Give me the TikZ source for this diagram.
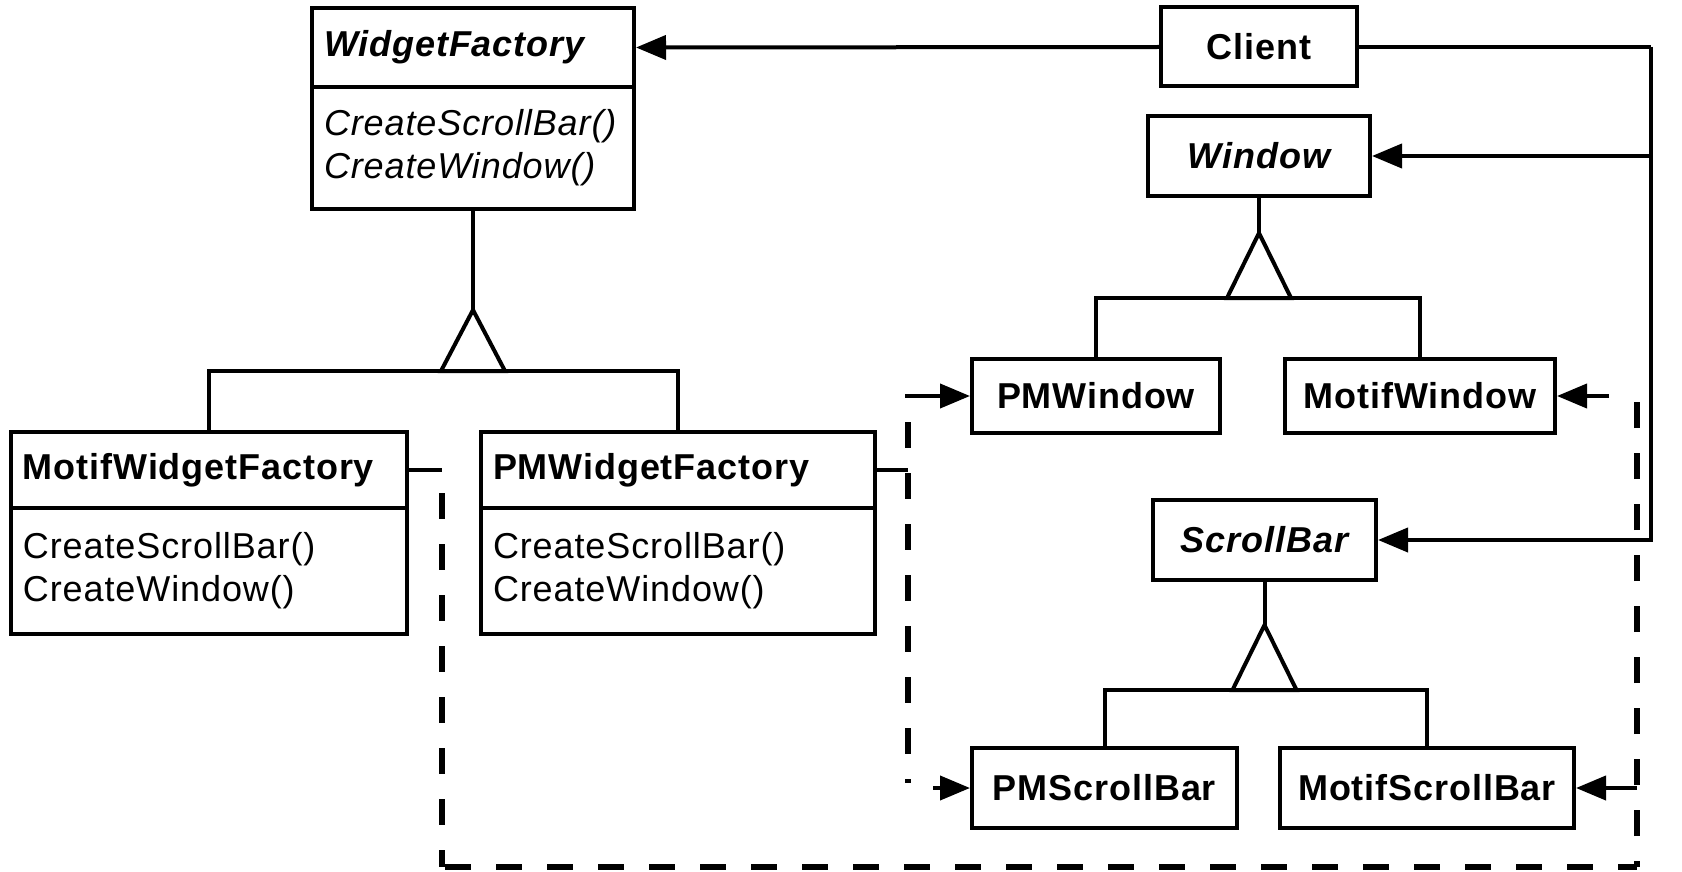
\documentclass[tikz,border=0pt]{standalone}
\usepackage{fontspec}
\setmainfont[LetterSpace=2.5]{Liberation Sans}
\usetikzlibrary{arrows.meta,calc}
\begin{document}
\begin{tikzpicture}[x=1pt,y=-1pt,
  font=\fontsize{36}{43}\selectfont,
  cls/.style={draw, line width=4pt, inner xsep=12pt, inner ysep=0pt},
  ttl/.style={cls, align=left, font=\fontsize{36}{43}\selectfont\bfseries},
  bdy/.style={cls, align=left},
  plain/.style={cls, align=center, font=\fontsize{36}{43}\selectfont\bfseries},
  conn/.style={line width=4pt},
  assoc/.style={conn, -{Triangle[length=30pt,width=24pt]}},
  dep/.style={line width=5.5pt, dash pattern=on 26pt off 25pt}
]
\fill[white] (0,0) rectangle (1682,872);

% abstract factory
\node[ttl, font=\fontsize{36}{43}\selectfont\bfseries\itshape, text width=298pt, minimum width=322pt, minimum height=79pt] (wfT) at (473,47.5) {WidgetFactory};
\node[bdy, font=\fontsize{36}{43}\selectfont\itshape, text width=298pt, minimum width=322pt, minimum height=122pt] (wfB) at (473,148) {CreateScrollBar()\\CreateWindow()};

% concrete factories
\node[ttl, text width=372pt, minimum width=396pt, minimum height=76pt] (mwfT) at (209,470) {MotifWidgetFactory};
\node[bdy, text width=372pt, minimum width=396pt, minimum height=126pt] (mwfB) at (209,571) {CreateScrollBar()\\CreateWindow()};
\node[ttl, text width=370pt, minimum width=394pt, minimum height=76pt] (pmwfT) at (678,470) {PMWidgetFactory};
\node[bdy, text width=370pt, minimum width=394pt, minimum height=126pt] (pmwfB) at (678,571) {CreateScrollBar()\\CreateWindow()};

% client and products
\node[plain, minimum width=196pt, minimum height=79pt] (client) at (1259,47) {Client};
\node[plain, font=\fontsize{36}{43}\selectfont\bfseries\itshape, minimum width=222pt, minimum height=80pt] (window) at (1259,156) {Window};
\node[plain, minimum width=248pt, minimum height=74pt] (pmw) at (1096,396) {PMWindow};
\node[plain, minimum width=270pt, minimum height=74pt] (motw) at (1420,396) {MotifWindow};
\node[plain, font=\fontsize{36}{43}\selectfont\bfseries\itshape, minimum width=223pt, minimum height=80pt] (sb) at (1264.5,540) {ScrollBar};
\node[plain, minimum width=265pt, minimum height=80pt] (pmsb) at (1104.5,788) {PMScrollBar};
\node[plain, minimum width=294pt, minimum height=80pt] (motsb) at (1427,788) {MotifScrollBar};

% inheritance: WidgetFactory
\coordinate (wfA) at ($(wfB.south)+(0,99)$);
\draw[conn] (wfB.south) -- (wfA);
\draw[conn, line join=miter] (wfA) -- ++(-32,61) -- ++(64,0) -- cycle;
\draw[conn] (mwfT.north) |- ($(wfA)+(0,61)$) -| (pmwfT.north);

% inheritance: Window
\coordinate (wA) at ($(window.south)+(0,35)$);
\draw[conn] (window.south) -- (wA);
\draw[conn, line join=miter] (wA) -- ++(-32,65) -- ++(64,0) -- cycle;
\draw[conn] (pmw.north) |- ($(wA)+(0,65)$) -| (motw.north);

% inheritance: ScrollBar
\coordinate (sA) at ($(sb.south)+(0,43)$);
\draw[conn] (sb.south) -- (sA);
\draw[conn, line join=miter] (sA) -- ++(-32,65) -- ++(64,0) -- cycle;
\draw[conn] (pmsb.north) |- ($(sA)+(0,65)$) -| (motsb.north);

% associations from Client
\draw[assoc] (client.west) -- (wfT.east);
\coordinate (rail) at ($(client.east)+(292,0)$);
\draw[conn] (client.east) -- (rail);
\draw[assoc] (rail) |- (window.east);
\draw[assoc] (rail) |- (sb.east);

% dependencies: Motif factory
\coordinate (dL) at ($(mwfT.east)+(33,0)$);
\coordinate (dLB) at (dL |- 0,867);
\coordinate (dRB) at (1637,867);
\coordinate (dRT) at (dRB |- motw.east);
\coordinate (dRM) at (dRB |- motsb.east);
\draw[conn] (mwfT.east) -- (dL);
\draw[dep, dash phase=28pt] (dL) -- (dLB);
\draw[dep, dash phase=-3pt] (dLB) -- (dRB);
\draw[dep, dash phase=20pt] (dRB) -- (dRT);
\draw[assoc] ($(dRT)+(-28,0)$) -- (motw.east);
\draw[assoc] (dRM) -- (motsb.east);

% dependencies: PM factory
\coordinate (dM) at ($(pmwfT.east)+(31,0)$);
\coordinate (dMT) at (dM |- pmw.west);
\coordinate (dMB) at (dM |- pmsb.west);
\draw[conn] (pmwfT.east) -- (dM);
\draw[dep] ($(dMT)+(0,26)$) -- ($(dMB)+(0,-5)$);
\draw[assoc] ($(dMT)+(-3,0)$) -- (pmw.west);
\draw[assoc] ($(dMB)+(25,0)$) -- (pmsb.west);
\end{tikzpicture}
\end{document}
